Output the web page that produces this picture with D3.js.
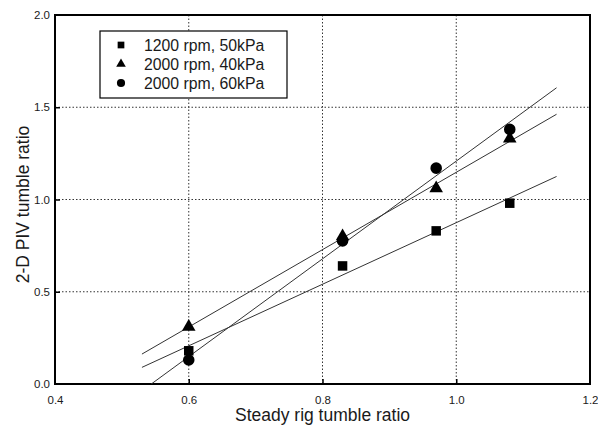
<!DOCTYPE html>
<html>
<head>
<meta charset="utf-8">
<script src="https://cdnjs.cloudflare.com/ajax/libs/d3/7.8.4/d3.min.js"></script>
<style>
  body { margin: 0; background: #fff; }
  svg text { font-family: "Liberation Sans", Arial, sans-serif; fill: #1a1a1a; }
</style>
</head>
<body>
<div id="chart"></div>
<script>
// data
const steadyRig = [0.60, 0.83, 0.97, 1.08];
const rpm1200_50kPa = [0.18, 0.64, 0.83, 0.98];
const rpm2000_40kPa = [0.31, 0.80, 1.06, 1.33];
const rpm2000_60kPa = [0.13, 0.775, 1.17, 1.38];
const seriesNames = ["1200 rpm, 50kPa", "2000 rpm, 40kPa", "2000 rpm, 60kPa"];
const xTicks = [0.4, 0.6, 0.8, 1.0, 1.2];
const yTicks = [0.0, 0.5, 1.0, 1.5, 2.0];
const fitRange = [0.53, 1.15];

const series = [
  {name: seriesNames[0], y: rpm1200_50kPa, sym: d3.symbolSquare, size: 90},
  {name: seriesNames[1], y: rpm2000_40kPa, sym: d3.symbolTriangle, size: 80},
  {name: seriesNames[2], y: rpm2000_60kPa, sym: d3.symbolCircle, size: 105}
];

const W = 598, H = 430;
const svg = d3.select("#chart").append("svg")
  .attr("width", W).attr("height", H);

const x = d3.scaleLinear().domain([0.4, 1.2]).range([55, 590]);
const y = d3.scaleLinear().domain([0, 2]).range([384, 15]);

svg.append("clipPath").attr("id", "plot")
  .append("rect")
  .attr("x", x(0.4)).attr("y", y(2))
  .attr("width", x(1.2) - x(0.4)).attr("height", y(0) - y(2));

// dotted grid
svg.append("g").selectAll("line")
  .data(xTicks.slice(1, -1)).join("line")
  .attr("x1", d => x(d)).attr("x2", d => x(d))
  .attr("y1", y(0)).attr("y2", y(2))
  .attr("stroke", "#333").attr("stroke-width", 1)
  .attr("stroke-dasharray", "1.5,2");
svg.append("g").selectAll("line")
  .data(yTicks.slice(1, -1)).join("line")
  .attr("y1", d => y(d)).attr("y2", d => y(d))
  .attr("x1", x(0.4)).attr("x2", x(1.2))
  .attr("stroke", "#333").attr("stroke-width", 1)
  .attr("stroke-dasharray", "1.5,2");

// axes, ticks pointing inward
const xAxis = svg.append("g")
  .attr("transform", `translate(0,${y(0)})`)
  .call(d3.axisBottom(x).tickValues(xTicks).tickFormat(d3.format(".1f"))
    .tickSizeInner(-5).tickSizeOuter(0).tickPadding(12));
const yAxis = svg.append("g")
  .attr("transform", `translate(${x(0.4)},0)`)
  .call(d3.axisLeft(y).tickValues(yTicks).tickFormat(d3.format(".1f"))
    .tickSizeInner(-5).tickSizeOuter(0).tickPadding(5));
[xAxis, yAxis].forEach(a => {
  a.select(".domain").remove();
  a.selectAll(".tick line").attr("stroke", "#000").attr("stroke-width", 1.5);
  a.selectAll("text").attr("font-size", 11.5).attr("fill", "#1a1a1a");
});
xAxis.selectAll(".tick").filter(d => d === 0.4 || d === 1.2).select("line").remove();
yAxis.selectAll(".tick").filter(d => d === 0 || d === 2).select("line").remove();
xAxis.selectAll("text").attr("dy", "0.71em");

// frame
svg.append("rect")
  .attr("x", x(0.4)).attr("y", y(2))
  .attr("width", x(1.2) - x(0.4)).attr("height", y(0) - y(2))
  .attr("fill", "none").attr("stroke", "#000").attr("stroke-width", 2);

// least squares fit lines
function fit(xs, ys) {
  const mx = d3.mean(xs), my = d3.mean(ys);
  const sxy = d3.sum(xs, (v, i) => (v - mx) * (ys[i] - my));
  const sxx = d3.sum(xs, v => (v - mx) * (v - mx));
  const b = sxy / sxx;
  return t => my + b * (t - mx);
}
const line = d3.line().x(d => x(d[0])).y(d => y(d[1]));
svg.append("g").attr("clip-path", "url(#plot)")
  .selectAll("path")
  .data(series).join("path")
  .attr("d", s => {
    const f = fit(steadyRig, s.y);
    return line(fitRange.map(t => [t, f(t)]));
  })
  .attr("fill", "none").attr("stroke", "#333").attr("stroke-width", 1);

// markers
series.forEach(s => {
  svg.append("g").selectAll("path")
    .data(s.y).join("path")
    .attr("transform", (d, i) => `translate(${x(steadyRig[i])},${y(d)})`)
    .attr("d", d3.symbol().type(s.sym).size(s.size))
    .attr("fill", "#000");
});

// legend
const lg = svg.append("g").attr("transform", "translate(100,31)");
lg.append("rect").attr("width", 187).attr("height", 67)
  .attr("fill", "#fff").attr("stroke", "#000").attr("stroke-width", 1.2);
series.forEach((s, i) => {
  const cy = 14 + i * 19;
  lg.append("path")
    .attr("transform", `translate(21,${cy})`)
    .attr("d", d3.symbol().type(s.sym).size(s.size * 0.5))
    .attr("fill", "#000");
  lg.append("text")
    .attr("x", 44).attr("y", cy).attr("dy", "0.36em")
    .attr("font-size", 15.8).text(s.name);
});

// axis titles
svg.append("text")
  .attr("x", (x(0.4) + x(1.2)) / 2).attr("y", 421)
  .attr("text-anchor", "middle").attr("font-size", 17.5)
  .text("Steady rig tumble ratio");
svg.append("text")
  .attr("transform", `translate(29,${(y(0) + y(2)) / 2 + 5}) rotate(-90)`)
  .attr("text-anchor", "middle").attr("font-size", 17.5)
  .text("2-D PIV tumble ratio");
</script>
</body>
</html>
